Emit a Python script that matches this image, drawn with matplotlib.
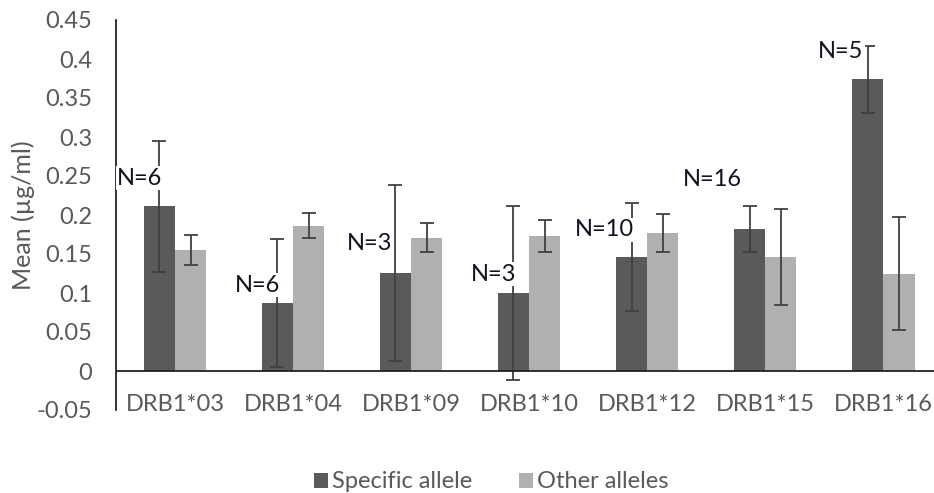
import numpy as np
import matplotlib
matplotlib.use("Agg")
import matplotlib.pyplot as plt

alleles = ["DRB1*03", "DRB1*04", "DRB1*09", "DRB1*10", "DRB1*12", "DRB1*15", "DRB1*16"]
specific_mean = [0.211, 0.087, 0.126, 0.100, 0.146, 0.182, 0.374]
specific_err = [0.084, 0.082, 0.113, 0.111, 0.069, 0.029, 0.043]
other_mean = [0.155, 0.186, 0.171, 0.173, 0.177, 0.146, 0.125]
other_err = [0.019, 0.016, 0.019, 0.021, 0.024, 0.062, 0.073]
n_labels = ["N=6", "N=6", "N=3", "N=3", "N=10", "N=16", "N=5"]
n_label_y = [0.247, 0.110, 0.164, 0.124, 0.181, 0.245, 0.409]
n_label_dx = [-0.30, -0.30, -0.35, -0.30, -0.36, -0.45, -0.36]

DARK = "#5a5a5a"
LIGHT = "#b0b0b0"
TXT = "#595959"

plt.rcParams["font.family"] = ["Lato", "DejaVu Sans"]

fig = plt.figure(figsize=(9.34, 4.93), dpi=100)
ax = fig.add_axes([116 / 934, 83 / 493, (934 - 116) / 934, 390 / 493])

x = np.arange(len(alleles))
w = 0.265
err_kw = dict(ecolor="#404040", elinewidth=1.3, capthick=1.3)
ax.bar(x - w / 2, specific_mean, w, color=DARK, label="Specific allele", zorder=2)
ax.bar(x + w / 2, other_mean, w, color=LIGHT, label="Other alleles", zorder=2)
ax.errorbar(x - w / 2, specific_mean, yerr=specific_err, fmt="none", capsize=5, zorder=3, **err_kw)
ax.errorbar(x + w / 2, other_mean, yerr=other_err, fmt="none", capsize=5, zorder=3, **err_kw)

for xi, lab, ly, dx in zip(x, n_labels, n_label_y, n_label_dx):
    ax.text(xi + dx, ly, lab, ha="center", va="center", fontsize=17, color="#111122",
            bbox=dict(facecolor="white", edgecolor="none", pad=1.0), zorder=4)

ax.axhline(0, color="#222222", lw=1.3, zorder=3)
ax.set_xlim(-0.5, 6.43)
ax.set_ylim(-0.05, 0.45)
ax.set_yticks(np.arange(-0.05, 0.451, 0.05))
ax.set_yticklabels(["-0.05", "0", "0.05", "0.1", "0.15", "0.2", "0.25", "0.3", "0.35", "0.4", "0.45"])
ax.set_xticks(x)
ax.set_xticklabels(alleles)
ax.tick_params(axis="both", length=0, labelsize=17, colors=TXT)
ax.tick_params(axis="y", pad=17)
ax.tick_params(axis="x", pad=-11.5)
for s in ["top", "right", "bottom"]:
    ax.spines[s].set_visible(False)
ax.spines["left"].set_color("#222222")
ax.spines["left"].set_linewidth(1.3)
ax.set_ylabel("Mean (µg/ml)", fontsize=18, color=TXT)
ax.yaxis.set_label_coords(-0.099, 0.5)

fig.legend(loc="center", bbox_to_anchor=(491 / 934, 1 - 482 / 493), ncol=2, frameon=False,
           fontsize=17, labelcolor=TXT, handlelength=0.6, handleheight=0.6,
           handletextpad=0.15, columnspacing=2.0)

fig.savefig("out.png", dpi=100)
